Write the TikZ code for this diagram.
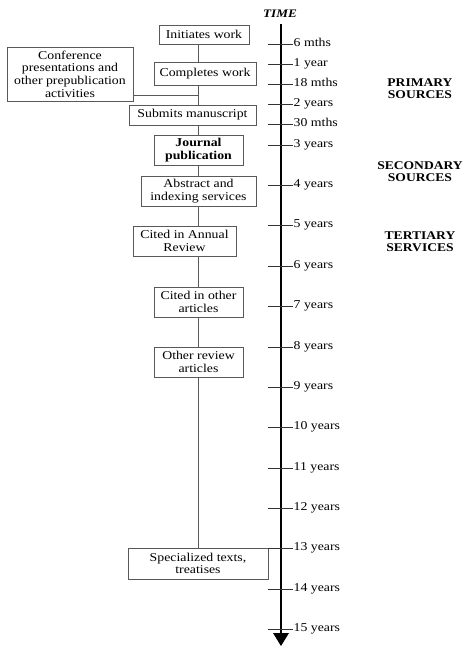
\documentclass[tikz,border=0pt]{standalone}
\usepackage{fontspec}
\setmainfont{Liberation Serif}[FakeStretch=1.15]
\begin{document}
\begin{tikzpicture}[x=1pt,y=-1pt,
  every node/.style={font=\fontsize{12}{12.7}\selectfont, inner sep=0pt},
  evbox/.style={draw=black!65, line width=0.8pt, align=center},
  link/.style={draw=black!65, line width=0.8pt},
  tick/.style={draw=black!80, line width=0.8pt},
  ticklabel/.style={anchor=base west},
  side/.style={font=\fontsize{11.8}{12}\selectfont\bfseries, align=center}]
\useasboundingbox (0,0) rectangle (465,646);
% events
\node[evbox, minimum width=90pt, minimum height=19pt] (init) at (204,34.5) {Initiates work};
\node[evbox, minimum width=102pt, minimum height=23pt] (comp) at (205,73.5) {Completes work};
\node[evbox, minimum width=126pt, minimum height=54pt] (conf) at (70,74) {Conference\\presentations and\\other prepublication\\activities};
\node[evbox, minimum width=127pt, minimum height=20pt] (subm) at (192.5,115) {Submits manuscript};
\node[evbox, minimum width=89pt, minimum height=30pt, font=\fontsize{12}{12.7}\selectfont\bfseries] (jour) at (198.5,150) {Journal\\publication};
\node[evbox, minimum width=115pt, minimum height=30pt] (abst) at (198.5,191) {Abstract and\\indexing services};
\node[evbox, minimum width=103pt, minimum height=30pt] (annu) at (184.5,241) {Cited in Annual\\Review};
\node[evbox, minimum width=89pt, minimum height=30pt] (cito) at (198.5,302) {Cited in other\\articles};
\node[evbox, minimum width=89pt, minimum height=30pt] (revw) at (198.5,362) {Other review\\articles};
\node[evbox, minimum width=140pt, minimum height=31pt] (spec) at (198,563.5) {Specialized texts,\\treatises};
% spine
\coordinate (sx) at (198,0);
\coordinate (cj) at (198,95);
\draw[link] (init.south -| sx) -- (comp.north -| sx);
\draw[link] (comp.south -| sx) -- (subm.north -| sx);
\draw[link] (conf.east |- cj) -- (cj);
\draw[link] (subm.south -| sx) -- (jour.north -| sx);
\draw[link] (jour.south -| sx) -- (abst.north -| sx);
\draw[link] (abst.south -| sx) -- (annu.north -| sx);
\draw[link] (annu.south -| sx) -- (cito.north -| sx);
\draw[link] (cito.south -| sx) -- (revw.north -| sx);
\draw[link] (revw.south -| sx) -- (spec.north -| sx);
% time axis
\node[font=\fontsize{11.5}{12.7}\selectfont\bfseries\itshape] (time) at (280,14) {TIME};
\coordinate (atop) at (281,24);
\coordinate (abot) at (281,633);
\coordinate (atip) at (281,646);
\draw[line width=2.6pt] (atop) -- (abot);
\fill (273,633) -- (289,633) -- (atip) -- cycle;
% ticks
\foreach \y/\t in {44/6 mths, 64/1 year, 84/18 mths, 104/2 years, 124/30 mths,
  145/3 years, 185/4 years, 225/5 years, 266/6 years, 306/7 years, 347/8 years,
  387/9 years, 427/10 years, 468/11 years, 508/12 years, 548/13 years,
  589/14 years, 629/15 years}{
  \draw[tick] (268,\y) -- (293,\y);
  \node[ticklabel] at (293.5,\y+2) {\t};
}
% side labels
\node[side] (prim) at (420,89) {PRIMARY\\SOURCES};
\node[side] (seco) at (420,172) {SECONDARY\\SOURCES};
\node[side] (tert) at (420,242) {TERTIARY\\SERVICES};
\end{tikzpicture}
\end{document}
